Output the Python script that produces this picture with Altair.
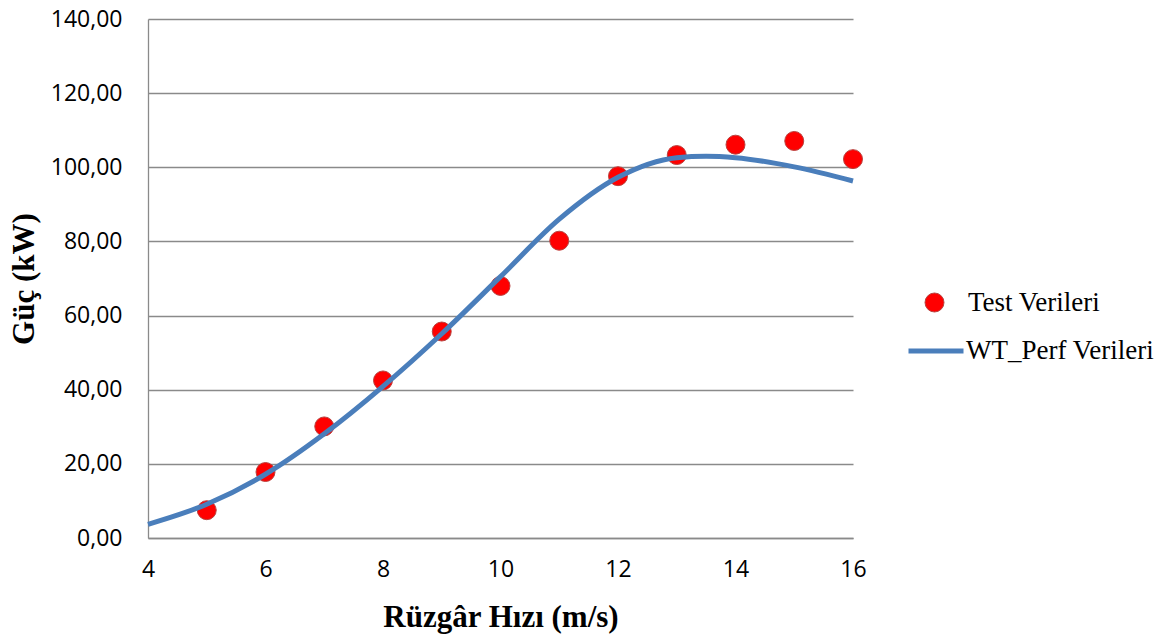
import altair as alt
import pandas as pd

# Measured turbine output (test runs)
test_speed = [5, 6, 7, 8, 9, 10, 11, 12, 13, 14, 15, 16]
test_power = [7.5, 17.8, 30.1, 42.5, 55.7, 68.0, 80.2, 97.6, 103.3, 106.1, 107.1, 102.2]

# WT_Perf predicted power curve
wt_speed = [4, 5, 6, 7, 8, 9, 10, 11, 12, 13, 13.5, 14, 15, 16]
wt_power = [3.7, 9.1, 17.2, 28.1, 40.9, 55.1, 70.5, 86.0, 97.3, 102.6, 103.0, 102.6, 100.1, 96.3]

x_ticks = [4, 6, 8, 10, 12, 14, 16]
y_ticks = [0, 20, 40, 60, 80, 100, 120, 140]

test_df = pd.DataFrame({"hiz": test_speed, "guc": test_power, "seri": "Test Verileri"})
wt_df = pd.DataFrame({"hiz": wt_speed, "guc": wt_power, "seri": "WT_Perf Verileri"})

GRID = "#8a8a8a"
LABEL_FONT = "Open Sans"
TITLE_FONT = "Liberation Serif"

x_enc = alt.X(
    "hiz:Q",
    scale=alt.Scale(domain=[4, 16], nice=False, zero=False),
    axis=alt.Axis(
        values=x_ticks,
        title="Rüzgâr Hızı (m/s)",
        grid=False,
        ticks=False,
        domainColor=GRID,
        domainWidth=1.3,
        labelFont=LABEL_FONT,
        labelFontSize=23,
        labelColor="#000000",
        labelPadding=20,
        labelFlush=False,
        titleFont=TITLE_FONT,
        titleFontSize=31,
        titleFontWeight="bold",
        titleColor="#000000",
        titlePadding=21,
    ),
)

y_enc = alt.Y(
    "guc:Q",
    scale=alt.Scale(domain=[0, 140], nice=False),
    axis=alt.Axis(
        values=y_ticks,
        labelExpr="replace(format(datum.value, '.2f'), '.', ',')",
        title="Güç (kW)",
        grid=True,
        gridColor=GRID,
        gridWidth=1.3,
        ticks=False,
        domainColor=GRID,
        domainWidth=1.3,
        labelFont=LABEL_FONT,
        labelFontSize=23,
        labelColor="#000000",
        labelPadding=26,
        labelFlush=False,
        titleFont=TITLE_FONT,
        titleFontSize=31,
        titleFontWeight="bold",
        titleColor="#000000",
        titlePadding=10,
    ),
)

points = alt.Chart(test_df).mark_point(
    filled=True, size=360, opacity=1, stroke="#b8413e", strokeWidth=1
).encode(
    x=x_enc,
    y=y_enc,
    fill=alt.Fill(
        "seri:N",
        scale=alt.Scale(domain=["Test Verileri"], range=["#ff0000"]),
        legend=alt.Legend(
            title=None,
            orient="none",
            legendX=773,
            legendY=270,
            symbolType="circle",
            symbolSize=360,
            symbolStrokeColor="#b8413e",
            symbolStrokeWidth=1,
            symbolOpacity=1,
            labelFont=TITLE_FONT,
            labelFontSize=27,
            labelColor="#000000",
            labelOffset=20,
            labelLimit=400,
        ),
    ),
)

line = alt.Chart(wt_df).mark_line(strokeWidth=5, interpolate="monotone").encode(
    x=x_enc,
    y=y_enc,
    stroke=alt.Stroke(
        "seri:N",
        scale=alt.Scale(domain=["WT_Perf Verileri"], range=["#4a7ebb"]),
        legend=alt.Legend(
            title=None,
            orient="none",
            legendX=758,
            legendY=302,
            symbolType="stroke",
            symbolSize=3025,
            symbolStrokeWidth=5,
            labelFont=TITLE_FONT,
            labelFontSize=27,
            labelColor="#000000",
            labelOffset=0,
            labelLimit=400,
        ),
    ),
)

chart = (
    alt.layer(points, line)
    .resolve_scale(fill="independent", stroke="independent")
    .properties(
        width=705,
        height=519,
        autosize=alt.AutoSizeParams(type="none"),
        padding={"left": 148, "top": 19, "right": 320, "bottom": 98},
        background="#ffffff",
    )
    .configure_view(stroke=None)
)

chart.save("out.html", embed_options={"renderer": "svg", "actions": False})
